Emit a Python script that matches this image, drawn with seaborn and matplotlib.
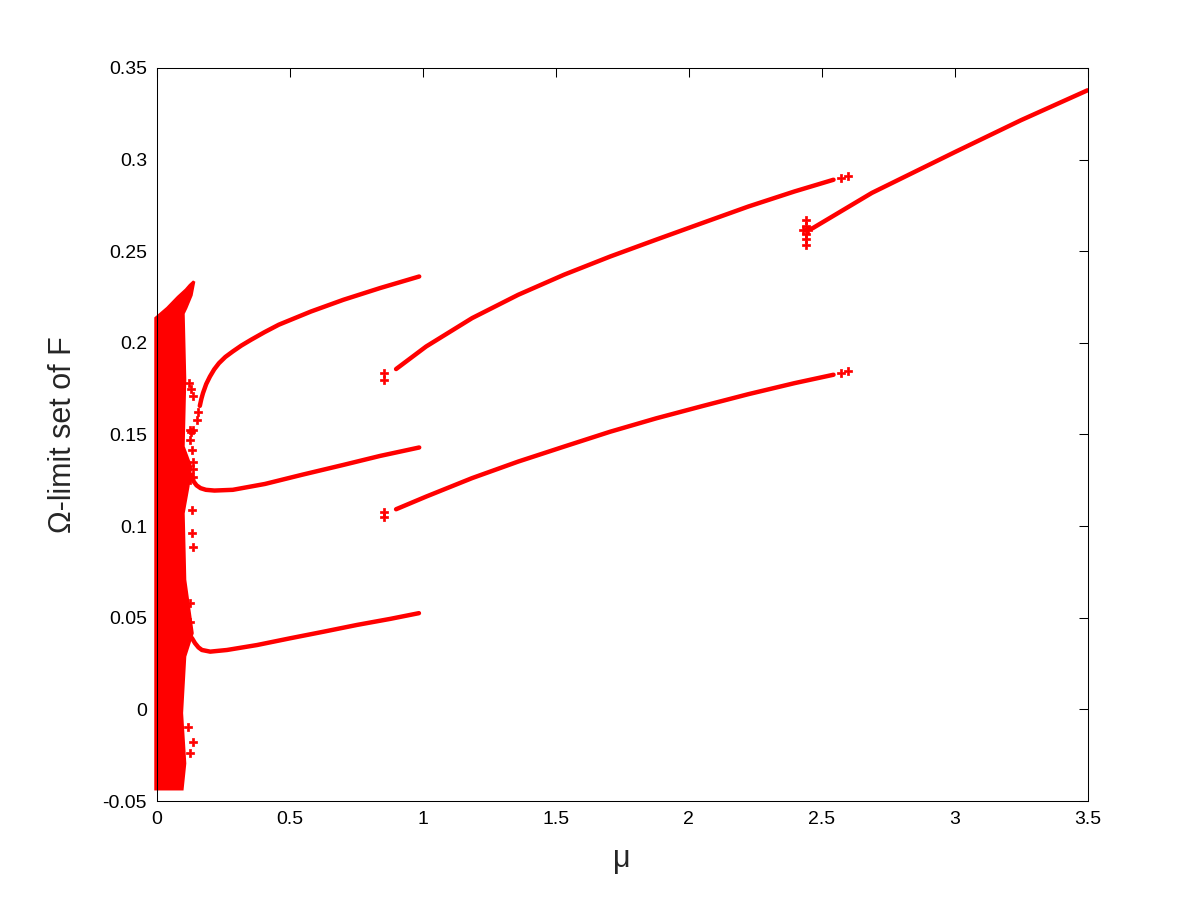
import pandas as pd
import seaborn as sns
from matplotlib import pyplot as plt

# branch values (mu, omega-limit)
upper_left_mu = [0.162, 0.168, 0.174, 0.186, 0.200, 0.216, 0.234, 0.258, 0.286, 0.318, 0.355,
                 0.405, 0.459, 0.580, 0.702, 0.840, 0.987]
upper_left_w = [0.1656, 0.1695, 0.1726, 0.1775, 0.1816, 0.1855, 0.1889, 0.1923, 0.1953, 0.1985, 0.2017,
                0.2058, 0.2099, 0.2171, 0.2235, 0.2299, 0.2362]

mid_left_mu = [0.132, 0.139, 0.150, 0.165, 0.185, 0.217, 0.286, 0.407, 0.546, 0.702, 0.840, 0.987]
mid_left_w = [0.1280, 0.1243, 0.1222, 0.1207, 0.1198, 0.1194, 0.1198, 0.1230, 0.1280, 0.1334, 0.1383, 0.1429]

low_left_mu = [0.132, 0.144, 0.157, 0.170, 0.201, 0.264, 0.377, 0.502, 0.628, 0.754, 0.879, 0.986]
low_left_w = [0.0390, 0.0361, 0.0338, 0.0324, 0.0315, 0.0324, 0.0351, 0.0388, 0.0424, 0.0461, 0.0494, 0.0525]

upper_mid_mu = [0.900, 1.013, 1.186, 1.359, 1.532, 1.705, 1.878, 2.052, 2.225, 2.398, 2.545]
upper_mid_w = [0.1857, 0.1980, 0.2135, 0.2262, 0.2372, 0.2471, 0.2563, 0.2654, 0.2744, 0.2826, 0.2890]

low_mid_mu = [0.900, 1.013, 1.186, 1.359, 1.532, 1.705, 1.878, 2.052, 2.225, 2.398, 2.545]
low_mid_w = [0.1092, 0.1161, 0.1262, 0.1352, 0.1434, 0.1515, 0.1588, 0.1655, 0.1720, 0.1780, 0.1826]

right_mu = [2.440, 2.467, 2.689, 3.000, 3.250, 3.500]
right_w = [0.2615, 0.2626, 0.2818, 0.3040, 0.3215, 0.3378]

# chaotic band outline near mu = 0
cloud_mu = [-0.004, 0.04, 0.08, 0.11, 0.125, 0.140, 0.130, 0.110, 0.100, 0.106, 0.100, 0.128,
            0.118, 0.100, 0.106, 0.134, 0.106, 0.094, 0.106, 0.096, -0.004]
cloud_w = [0.2135, 0.219, 0.225, 0.229, 0.2315, 0.2335, 0.226, 0.219, 0.216, 0.180, 0.1434, 0.1325,
           0.1215, 0.107, 0.0707, 0.0416, 0.0289, -0.002, -0.0295, -0.0435, -0.0435]

# isolated points
dots_mu = [0.153, 0.157, 0.12, 0.128, 0.136, 0.125, 0.138, 0.125, 0.132, 0.125, 0.132, 0.132,
           0.138, 0.125, 0.125, 0.119, 0.138, 0.125, 0.135, 0.135, 0.135, 0.130,
           0.854, 0.854, 0.854, 0.854, 2.573, 2.601, 2.573, 2.601,
           2.440, 2.440, 2.440, 2.440, 2.440, 2.432, 2.448]
dots_w = [0.158, 0.162, 0.178, 0.175, 0.171, 0.1525, 0.1525, 0.147, 0.1416, 0.1252, 0.1089, 0.0961,
          0.0888, 0.0579, 0.0479, -0.0094, -0.0176, -0.024, 0.127, 0.131, 0.135, 0.1516,
          0.1838, 0.1795, 0.1079, 0.1049, 0.2900, 0.2912, 0.1835, 0.1847,
          0.2535, 0.2565, 0.2595, 0.2640, 0.2670, 0.2615, 0.2615]

branches = [
    (upper_left_mu, upper_left_w),
    (mid_left_mu, mid_left_w),
    (low_left_mu, low_left_w),
    (upper_mid_mu, upper_mid_w),
    (low_mid_mu, low_mid_w),
    (right_mu, right_w),
]

sns.set_style("white")
plt.rcParams['font.family'] = ['Liberation Sans', 'DejaVu Sans']

fig = plt.figure(figsize=(12.01, 9), dpi=100)
ax = fig.add_axes([0.1305, 0.11, 0.775, 0.8145])

ax.fill(cloud_mu, cloud_w, color='red', edgecolor='red', linewidth=2, clip_on=False)

for mu, w in branches:
    df = pd.DataFrame({'mu': mu, 'w': w})
    sns.lineplot(data=df, x='mu', y='w', sort=False, estimator=None,
                 color='red', linewidth=3.2, ax=ax)

dots = pd.DataFrame({'mu': dots_mu, 'w': dots_w})
sns.scatterplot(data=dots, x='mu', y='w', marker='P', s=28, color='red',
                edgecolor='red', linewidth=0.5, ax=ax)

ax.set_xlim(0, 3.5)
ax.set_ylim(-0.05, 0.35)
xt = [0, 0.5, 1, 1.5, 2, 2.5, 3, 3.5]
yt = [-0.05, 0, 0.05, 0.1, 0.15, 0.2, 0.25, 0.3, 0.35]
ax.set_xticks(xt)
ax.set_yticks(yt)
ax.set_xticklabels(['%g' % v for v in xt])
ax.set_yticklabels(['%g' % v for v in yt])
ax.tick_params(direction='in', length=6.5, width=0.75, top=True, right=True,
               labelsize=14, colors='black', pad=7)
for s in ax.spines.values():
    s.set_color('black')
    s.set_linewidth(0.75)

ax.set_xlabel('\u03bc', fontsize=22, labelpad=12)
ax.set_ylabel('\u03a9-limit set of F', fontsize=22, labelpad=18)

plt.savefig('out.png', dpi=100)
